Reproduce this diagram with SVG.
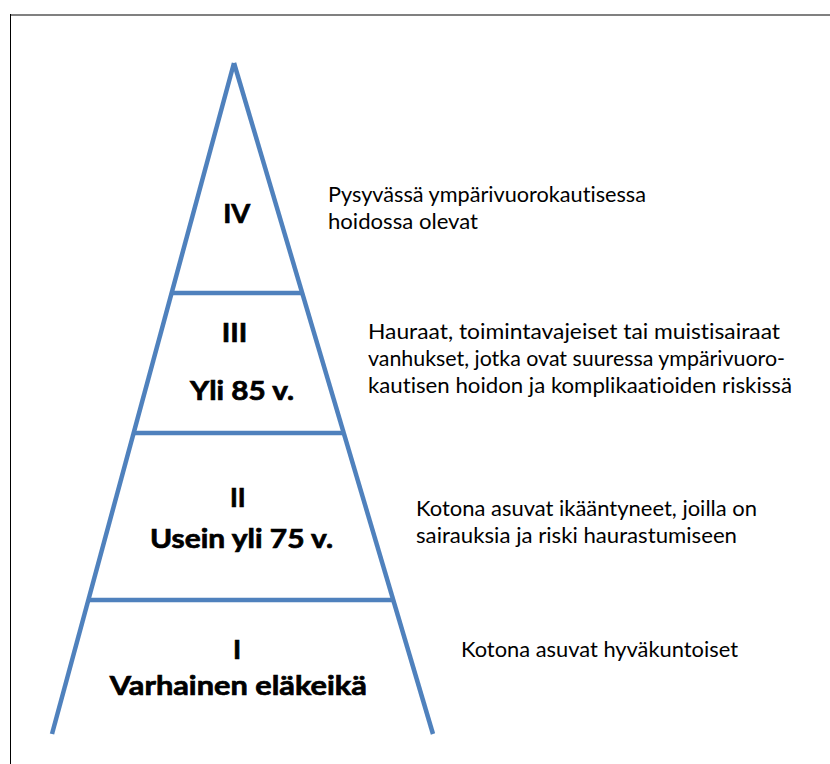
<svg xmlns="http://www.w3.org/2000/svg" width="830" height="764" viewBox="0 0 830 764">
<style>
.leg{stroke:#4f81bd;stroke-width:4.5;fill:none;stroke-linecap:butt}
.lvl{font-family:Lato,"Liberation Sans",sans-serif;font-weight:bold;font-size:27.5px;fill:#000;stroke:#000;stroke-width:0.7;text-anchor:middle;font-variant-ligatures:none}
.desc{font-family:Lato,"Liberation Sans",sans-serif;font-size:21.5px;fill:#000;font-variant-ligatures:none}
</style>
<rect width="830" height="764" fill="#fff"/>
<line x1="10" y1="15" x2="830" y2="15" stroke="#808080" stroke-width="2"/>
<line x1="10.5" y1="14" x2="10.5" y2="764" stroke="#000" stroke-width="1"/>
<g id="connectors">
<line class="leg" x1="234" y1="63" x2="52" y2="734"/>
<line class="leg" x1="234" y1="63" x2="433" y2="734"/>
<line class="leg" x1="171" y1="293" x2="303" y2="293"/>
<line class="leg" x1="133" y1="433" x2="345" y2="433"/>
<line class="leg" x1="88" y1="600" x2="394" y2="600"/>
</g>
<g id="level4">
<text class="lvl" x="236.7" y="223" textLength="27" lengthAdjust="spacingAndGlyphs">IV</text>
<text class="desc" x="328" y="202" textLength="318" lengthAdjust="spacingAndGlyphs">Pysyvässä ympärivuorokautisessa</text>
<text class="desc" x="328" y="229" textLength="150" lengthAdjust="spacingAndGlyphs">hoidossa olevat</text>
</g>
<g id="level3">
<text class="lvl" x="234.5" y="342" textLength="25.6" lengthAdjust="spacingAndGlyphs">III</text>
<text class="lvl" x="242" y="400" textLength="104" lengthAdjust="spacingAndGlyphs">Yli 85 v.</text>
<text class="desc" x="368" y="339" textLength="412" lengthAdjust="spacingAndGlyphs">Hauraat, toimintavajeiset tai muistisairaat</text>
<text class="desc" x="368" y="366" textLength="417" lengthAdjust="spacingAndGlyphs">vanhukset, jotka ovat suuressa ympärivuoro-</text>
<text class="desc" x="368" y="393" textLength="424" lengthAdjust="spacingAndGlyphs">kautisen hoidon ja komplikaatioiden riskissä</text>
</g>
<g id="level2">
<text class="lvl" x="237.8" y="507" textLength="15.7" lengthAdjust="spacingAndGlyphs">II</text>
<text class="lvl" x="241.5" y="548" textLength="183" lengthAdjust="spacingAndGlyphs">Usein yli 75 v.</text>
<text class="desc" x="416" y="516" textLength="341" lengthAdjust="spacingAndGlyphs">Kotona asuvat ikääntyneet, joilla on</text>
<text class="desc" x="416" y="543" textLength="321" lengthAdjust="spacingAndGlyphs">sairauksia ja riski haurastumiseen</text>
</g>
<g id="level1">
<text class="lvl" x="237" y="659">I</text>
<text class="lvl" x="238.3" y="695" textLength="257" lengthAdjust="spacingAndGlyphs">Varhainen eläkeikä</text>
<text class="desc" x="461" y="657" textLength="277" lengthAdjust="spacingAndGlyphs">Kotona asuvat hyväkuntoiset</text>
</g>
</svg>
